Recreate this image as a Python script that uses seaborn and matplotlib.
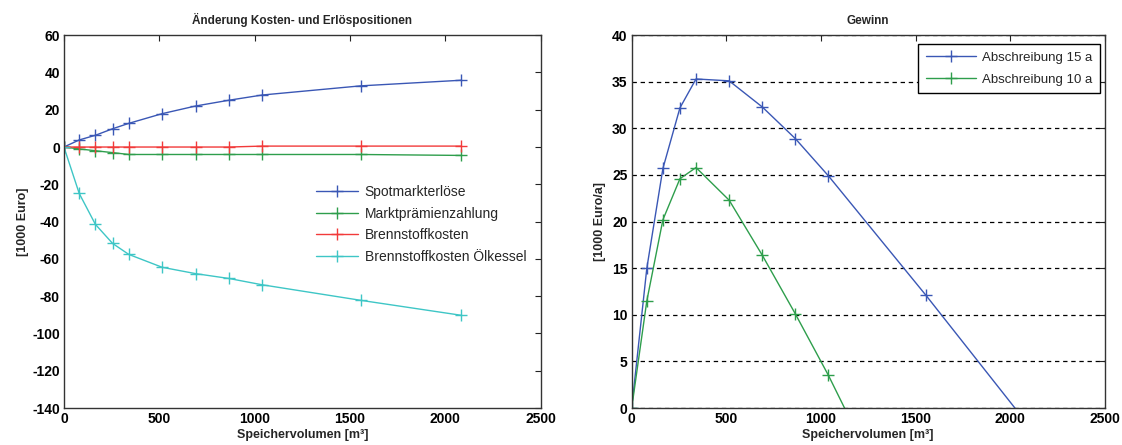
import numpy as np
import pandas as pd
import matplotlib
matplotlib.use("Agg")
import matplotlib.pyplot as plt
import seaborn as sns

# Storage volumes [m³]
volumen = [0, 80, 165, 255, 340, 515, 690, 865, 1040, 1555, 2080]

# Change of cost and revenue items [1000 Euro]
spotmarkterloese = [0, 3.8, 6.3, 9.8, 12.7, 17.9, 22.0, 25.1, 27.9, 32.8, 35.8]
marktpraemie = [0, -1.0, -2.0, -3.0, -4.0, -4.0, -4.0, -4.0, -4.0, -4.0, -4.5]
brennstoffkosten = [0, 0, 0, 0, 0, 0, 0, 0, 0.5, 0.5, 0.5]
oelkessel = [0, -24.9, -41.5, -51.7, -57.6, -64.5, -67.9, -70.5, -73.9, -82.2, -90.2]

# Profit [1000 Euro/a]
volumen_10a = [0, 80, 165, 255, 340, 515, 690, 865, 1040, 1555]
gewinn_15a = [0, 15.0, 25.7, 32.2, 35.3, 35.1, 32.3, 28.9, 24.9, 12.1, -1.4]
gewinn_10a = [0, 11.5, 20.2, 24.6, 25.8, 22.3, 16.4, 10.1, 3.5, -17.7]

labels_left = ["Spotmarkterlöse", "Marktprämienzahlung", "Brennstoffkosten",
               "Brennstoffkosten Ölkessel"]
labels_right = ["Abschreibung 15 a", "Abschreibung 10 a"]

BLUE = "#3a57b5"
GREEN = "#2e9e4c"
RED = "#f23a3a"
CYAN = "#3ec6c6"

sns.set_style("white")
plt.rcParams["font.family"] = ["Liberation Sans", "DejaVu Sans"]
plt.rcParams["axes.unicode_minus"] = False

left_df = pd.concat([
    pd.DataFrame({"x": volumen, "y": vals, "Position": lab})
    for vals, lab in zip([spotmarkterloese, marktpraemie, brennstoffkosten, oelkessel],
                         labels_left)
], ignore_index=True)

right_df = pd.concat([
    pd.DataFrame({"x": volumen, "y": gewinn_15a, "Variante": labels_right[0]}),
    pd.DataFrame({"x": volumen_10a, "y": gewinn_10a, "Variante": labels_right[1]}),
], ignore_index=True)

fig = plt.figure(figsize=(11.22, 4.45), dpi=100)
ax1 = fig.add_axes([0.057, 0.083, 0.425, 0.838])
ax2 = fig.add_axes([0.563, 0.083, 0.4216, 0.838])

sns.lineplot(data=left_df, x="x", y="y", hue="Position", hue_order=labels_left,
             palette=[BLUE, GREEN, RED, CYAN], marker="+", markersize=9,
             markeredgewidth=1.0, linewidth=1.0, ax=ax1, sort=False, legend=False)
sns.lineplot(data=right_df, x="x", y="y", hue="Variante", hue_order=labels_right,
             palette=[BLUE, GREEN], marker="+", markersize=9,
             markeredgewidth=1.0, linewidth=1.0, ax=ax2, sort=False, legend=False)

# "+" markers take the line colour
for ax, labels in ((ax1, labels_left), (ax2, labels_right)):
    for line, lab in zip(ax.lines, labels):
        line.set_markeredgecolor(line.get_color())
        line.set_label(lab)

for ax in (ax1, ax2):
    ax.set_xlim(0, 2500)
    ax.set_xticks([0, 500, 1000, 1500, 2000, 2500])
    ax.set_xlabel("Speichervolumen [m³]", fontsize=9, fontweight="bold", labelpad=2)
    ax.tick_params(direction="in", length=4, width=0.8, top=True, right=True,
                   labelsize=10, pad=3, colors="#222222")
    for sp in ax.spines.values():
        sp.set_color("#333333")
        sp.set_linewidth(1.0)

ax1.set_ylim(-140, 60)
ax1.set_yticks(np.arange(-140, 61, 20))
ax1.set_ylabel("[1000 Euro]", fontsize=9, fontweight="bold", labelpad=2)
ax1.set_title("Änderung Kosten- und Erlöspositionen", fontsize=8.5,
              fontweight="bold", pad=8)
ax1.legend(loc="upper left", bbox_to_anchor=(0.517, 0.613), frameon=False,
           fontsize=10, handlelength=3.0, handletextpad=0.5,
           labelspacing=0.55, borderaxespad=0)

ax2.set_ylim(0, 40)
ax2.set_yticks(np.arange(0, 41, 5))
ax2.set_ylabel("[1000 Euro/a]", fontsize=9, fontweight="bold", labelpad=4)
ax2.set_title("Gewinn", fontsize=8.5, fontweight="bold", pad=8)
ax2.yaxis.grid(True, linestyle=(0, (3.5, 3)), color="black", linewidth=0.9)
ax2.set_axisbelow(True)
leg2 = ax2.legend(loc="upper right", bbox_to_anchor=(0.99, 0.975), frameon=True,
                  fancybox=False, edgecolor="black", fontsize=9.5, handlelength=3.8,
                  handletextpad=0.5, labelspacing=0.75, borderaxespad=0,
                  borderpad=0.55, framealpha=1)
leg2.get_frame().set_linewidth(1.0)

for ax in (ax1, ax2):
    for lab in ax.get_xticklabels() + ax.get_yticklabels():
        lab.set_fontweight("bold")
        lab.set_color("black")

fig.savefig("out.png", dpi=100, facecolor="white")
